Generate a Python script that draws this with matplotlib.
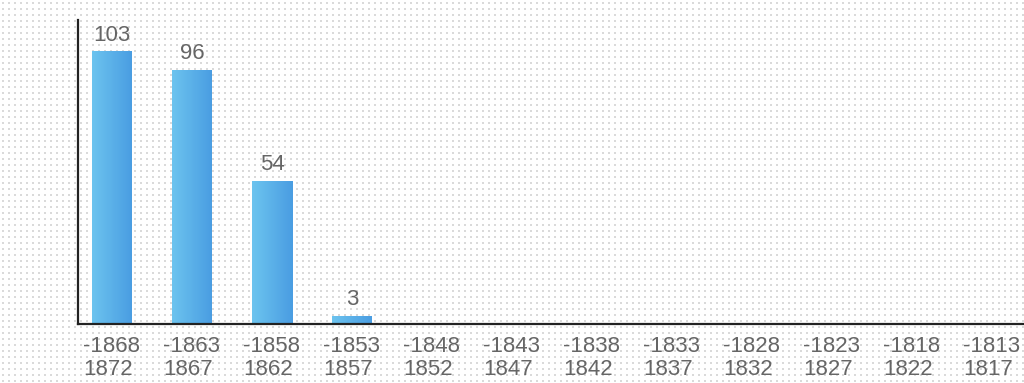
import numpy as np
import matplotlib.pyplot as plt
from matplotlib.colors import LinearSegmentedColormap

# periodos (de mas reciente a mas antiguo) y cantidad por periodo
periodos = ['-1868\n1872', '-1863\n1867', '-1858\n1862', '-1853\n1857',
            '-1848\n1852', '-1843\n1847', '-1838\n1842', '-1833\n1837',
            '-1828\n1832', '-1823\n1827', '-1818\n1822', '-1813\n1817']
cantidad = [103, 96, 54, 3, 0, 0, 0, 0, 0, 0, 0, 0]

plt.rcParams['font.family'] = ['Liberation Sans', 'DejaVu Sans']
gris = '#666666'

fig = plt.figure(figsize=(10.24, 3.83), dpi=100)
fig.patch.set_facecolor('white')

# fondo punteado
fondo = fig.add_axes([0, 0, 1, 1], zorder=0)
fondo.set_xlim(0, 1024)
fondo.set_ylim(383, 0)
fondo.axis('off')
gx, gy = np.meshgrid(np.arange(3, 1024, 6), np.arange(3, 383, 6))
fondo.scatter(gx.ravel(), gy.ravel(), s=0.6, c='#dadada', marker='s',
              linewidths=0)

ax = fig.add_axes([78 / 1024, 1 - 324 / 383, 1 - 78 / 1024, 304 / 383],
                  zorder=1)
ax.patch.set_alpha(0)

x = np.arange(len(periodos))
ancho = 0.5
degradado = LinearSegmentedColormap.from_list('azul', ['#6cc4ef', '#4a9de2'])
grad = np.linspace(0, 1, 64).reshape(1, -1)

barras = ax.bar(x, cantidad, width=ancho, color='none', edgecolor='none')
for b, v in zip(barras, cantidad):
    if v <= 0:
        continue
    x0 = b.get_x()
    ax.imshow(grad, cmap=degradado, aspect='auto', interpolation='bicubic',
              extent=(x0, x0 + ancho, 0, v), zorder=2)
    ax.text(b.get_x() + ancho / 2, v + 2.3, str(v), ha='center',
            va='bottom', fontsize=16, color=gris)

ax.set_xlim(-0.425, 11.4)
ax.set_ylim(0, 115)
ax.set_xticks(x)
ax.set_xticklabels(periodos, fontsize=16, color=gris, linespacing=1.12,
                   multialignment='left')
ax.tick_params(axis='x', length=0, pad=9)
for t in ax.get_xticklabels():
    t.set_x(t.get_position()[0] - 0.04)
ax.set_yticks([])
for lado in ['top', 'right']:
    ax.spines[lado].set_visible(False)
for lado in ['left', 'bottom']:
    ax.spines[lado].set_color('#222222')
    ax.spines[lado].set_linewidth(1.6)

fig.savefig('out.png', dpi=100, facecolor='white')
